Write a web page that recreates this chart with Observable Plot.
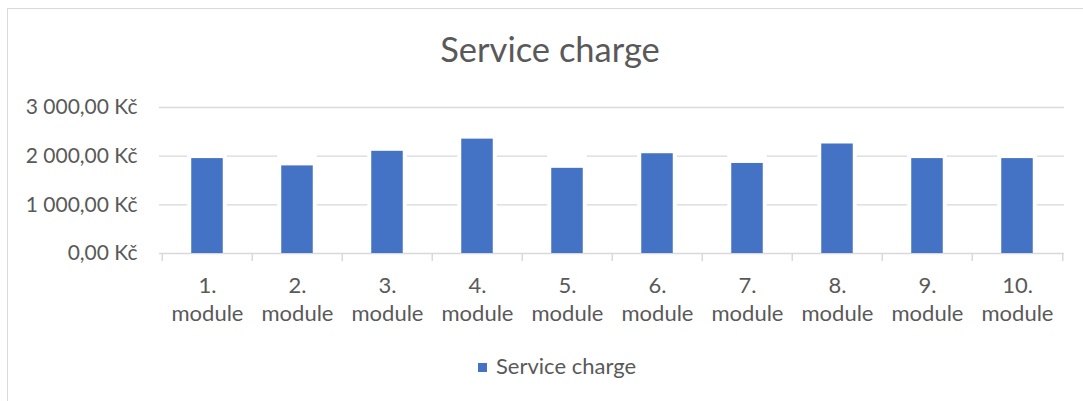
<!DOCTYPE html>
<html>
<head>
<meta charset="utf-8">
<script src="https://cdn.jsdelivr.net/npm/d3@7"></script>
<script src="https://cdn.jsdelivr.net/npm/@observablehq/plot@0.6"></script>
<style>
  body { margin: 0; background: #fff; }
  #wrap { position: relative; width: 1083px; height: 401px; overflow: hidden; font-family: Lato, sans-serif; color: #595959; }
  #frame { position: absolute; left: 7px; top: 8px; width: 1200px; height: 600px; border: 1.5px solid #d9d9d9; box-sizing: border-box; }
  #title { position: absolute; left: 0; width: 1100px; top: 32px; text-align: center; font-size: 34.5px; line-height: 1; }
  #chart { position: absolute; left: 0; top: 80px; }
  #legend-swatch { position: absolute; left: 478px; top: 363px; width: 9px; height: 9px; background: #4472C4; }
  #legend-text { position: absolute; left: 496px; top: 354.5px; font-size: 22px; line-height: 1; white-space: nowrap; }
</style>
</head>
<body>
<div id="wrap">
  <div id="frame"></div>
  <div id="title"></div>
  <div id="chart"></div>
  <div id="legend-swatch"></div>
  <div id="legend-text"></div>
</div>
<script>
const title = "Service charge";
const seriesName = "Service charge";
const categories = ["1. module", "2. module", "3. module", "4. module", "5. module",
                    "6. module", "7. module", "8. module", "9. module", "10. module"];
const values = [1950, 1800, 2100, 2350, 1750, 2050, 1850, 2250, 1950, 1950];
const yTicks = [0, 1000, 2000, 3000];

const data = categories.map((c, i) => ({category: c, value: values[i]}));

const cz = d3.formatLocale({decimal: ",", thousands: "\u00a0", grouping: [3], currency: ["", " Kč"]});
const fmt = d => cz.format(",.2f")(d) + " Kč";

const W = 1083, H = 260;
const mL = 159, mR = 19, mT = 27, mB = 87;
const bw = (W - mL - mR) / categories.length;
const barInset = (bw - 32) / 2;
const grey = "#d9d9d9";

const chart = Plot.plot({
  width: W,
  height: H,
  marginLeft: mL,
  marginRight: mR,
  marginTop: mT,
  marginBottom: mB,
  style: {fontFamily: "Lato, sans-serif", fontSize: "21px", color: "#595959", background: "transparent", overflow: "visible"},
  x: {domain: categories, padding: 0, label: null},
  y: {domain: [0, 3000], label: null},
  marks: [
    Plot.gridY(yTicks.slice(1), {stroke: grey, strokeOpacity: 1, strokeWidth: 1.3}),
    Plot.barY(data, {x: "category", y: "value", fill: "white", insetLeft: barInset - 4, insetRight: barInset - 4, insetTop: -16}),
    Plot.ruleY([0], {stroke: grey, strokeWidth: 1.5}),
    Plot.axisX({ticks: categories, tickSize: 8, tickFormat: () => "", dx: -bw / 2, stroke: grey, strokeWidth: 1.5, strokeOpacity: 1, label: null}),
    Plot.axisX([categories[categories.length - 1]], {tickSize: 8, tickFormat: () => "", dx: bw / 2, stroke: grey, strokeWidth: 1.5, strokeOpacity: 1, label: null}),
    Plot.axisX({ticks: categories, tickSize: 0, tickPadding: 20, tickFormat: d => d.replace(" ", "\n"), fontSize: 22, lineHeight: 1.27, fill: "#595959", label: null}),
    Plot.axisY({ticks: yTicks, tickSize: 0, tickPadding: 22, tickFormat: fmt, fontSize: 21, fill: "#595959", label: null}),
    Plot.barY(data, {x: "category", y: "value", fill: "#4472C4", insetLeft: barInset, insetRight: barInset})
  ]
});
document.getElementById("chart").appendChild(chart);
document.getElementById("title").textContent = title;
document.getElementById("legend-text").textContent = seriesName;
</script>
</body>
</html>
